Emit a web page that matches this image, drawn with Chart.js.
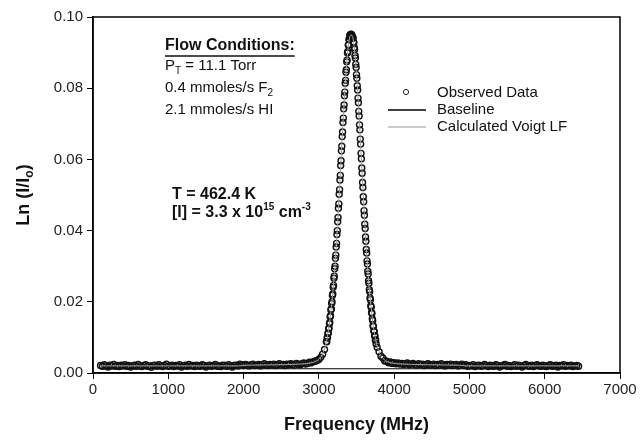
<!DOCTYPE html>
<html>
<head>
<meta charset="utf-8">
<script src="https://cdn.jsdelivr.net/npm/chart.js@4.4.0/dist/chart.umd.min.js"></script>
<style>body{margin:0;background:#fff}canvas{display:block}</style>
</head>
<body>
<canvas id="chart" width="643" height="443"></canvas>
<script>
// observed spectrum, three sampling segments (start MHz, step MHz, values)
var lowStart = 100, lowStep = 25;
var lowVals = [
  0.0021,0.0019,0.0023,0.0020,0.0017,0.0022,0.0020,0.0024,0.0019,0.0021,
  0.0018,0.0022,0.0020,0.0023,0.0019,0.0021,0.0017,0.0020,0.0022,0.0019,
  0.0024,0.0020,0.0018,0.0021,0.0023,0.0019,0.0020,0.0016,0.0021,0.0022,
  0.0019,0.0023,0.0020,0.0018,0.0021,0.0025,0.0019,0.0020,0.0022,0.0018,
  0.0021,0.0020,0.0023,0.0017,0.0020,0.0022,0.0019,0.0024,0.0020,0.0021,
  0.0018,0.0022,0.0020,0.0019,0.0023,0.0021,0.0017,0.0020,0.0022,0.0019,
  0.0021,0.0024,0.0019,0.0020,0.0018,0.0022,0.0021,0.0019,0.0023,0.0020,
  0.0017,0.0021,0.0022,0.0020,0.0025,0.0023,0.0021,0.0024,0.0022,0.0020,
  0.0023,0.0025,0.0021,0.0022,0.0024,0.0020,0.0023,0.0026,0.0022,0.0021,
  0.0024,0.0022,0.0025,0.0021,0.0023,0.0026,0.0022,0.0024,0.0021,0.0025,
  0.0023,0.0026,0.0024,0.0022,0.0027,0.0025,0.0023,0.0026,0.0028,0.0025,
  0.0027,0.0030,0.0029,0.0032,0.0033,0.0035,0.0038,0.0044,0.0053,0.0066
];

var peakStart = 3100, peakStep = 5;
var peakVals = [
  0.0088,0.0088,0.0099,0.0099,0.0111,0.0112,0.0124,0.0126,0.0138,0.0142,
  0.0158,0.0161,0.0177,0.0180,0.0195,0.0200,0.0218,0.0222,0.0241,0.0246,
  0.0266,0.0272,0.0293,0.0300,0.0322,0.0331,0.0354,0.0364,0.0389,0.0400,
  0.0425,0.0437,0.0463,0.0475,0.0502,0.0515,0.0542,0.0555,0.0583,0.0596,
  0.0624,0.0637,0.0664,0.0677,0.0704,0.0716,0.0742,0.0753,0.0779,0.0789,
  0.0814,0.0822,0.0845,0.0852,0.0874,0.0879,0.0899,0.0903,0.0921,0.0922,
  0.0937,0.0936,0.0948,0.0943,0.0951,0.0946,0.0952,
  0.0947,0.0949,0.0944,0.0942,0.0941,0.0930,0.0928,0.0914,0.0909,0.0892,
  0.0885,0.0867,0.0858,0.0838,0.0828,0.0807,0.0795,0.0772,0.0759,0.0735,
  0.0722,0.0697,0.0683,0.0657,0.0643,0.0617,0.0602,0.0576,0.0561,0.0535,
  0.0521,0.0495,0.0481,0.0456,0.0443,0.0418,0.0406,0.0382,0.0370,0.0347,
  0.0337,0.0315,0.0306,0.0286,0.0278,0.0259,0.0252,0.0234,0.0228,0.0211,
  0.0206,0.0189,0.0185,0.0170,0.0167,0.0152,0.0147,0.0132,0.0131,0.0118,
  0.0117,0.0105,0.0104,0.0093,0.0093,0.0082
];

var highStart = 3775, highStep = 25;
var highVals = [
  0.0072,0.0060,0.0047,0.0042,0.0034,0.0033,0.0029,0.0031,0.0027,0.0029,
  0.0026,0.0028,0.0025,0.0027,0.0024,0.0026,0.0028,0.0023,0.0025,0.0027,
  0.0024,0.0022,0.0026,0.0023,0.0025,0.0021,0.0024,0.0026,0.0022,0.0023,
  0.0025,0.0021,0.0024,0.0022,0.0026,0.0023,0.0020,0.0024,0.0022,0.0025,
  0.0021,0.0023,0.0024,0.0020,0.0022,0.0025,0.0021,0.0023,0.0019,0.0021,
  0.0020,0.0023,0.0018,0.0021,0.0022,0.0019,0.0020,0.0024,0.0021,0.0018,
  0.0022,0.0020,0.0019,0.0023,0.0021,0.0017,0.0020,0.0022,0.0024,0.0019,
  0.0021,0.0018,0.0020,0.0023,0.0019,0.0022,0.0020,0.0017,0.0021,0.0024,
  0.0020,0.0019,0.0022,0.0018,0.0021,0.0023,0.0020,0.0019,0.0022,0.0020,
  0.0018,0.0021,0.0023,0.0019,0.0020,0.0022,0.0017,0.0021,0.0020,0.0023,
  0.0019,0.0021,0.0020,0.0022,0.0018,0.0020,0.0021,0.0019
];

// calculated Voigt line shape
var fitFreq = [100,1000,1950,2050,2400,2630,2730,2830,2930,2980,
  3030,3050,3070,3090,3110,3130,3150,3170,3190,3210,3230,3250,3270,3290,3310,3330,3350,3370,3390,3410,
  3430,
  3450,3470,3490,3510,3530,3550,3570,3590,3610,3630,3650,3670,3690,3710,3730,3750,3770,3790,3810,3830,
  3880,3930,4030,4130,4230,4500,4850,4950,6450];
var fitVals = [0.0020,0.0020,0.0020,0.0022,0.0023,0.0024,0.0025,0.0026,0.0030,0.0035,
  0.0046,0.0054,0.0065,0.0079,0.0098,0.0122,0.0155,0.0192,0.0237,0.0289,0.0350,0.0421,0.0498,0.0579,0.0660,0.0738,0.0810,0.0870,0.0917,0.0945,
  0.0950,
  0.0945,0.0917,0.0870,0.0810,0.0738,0.0660,0.0579,0.0498,0.0421,0.0350,0.0289,0.0237,0.0192,0.0155,0.0122,0.0098,0.0079,0.0065,0.0054,0.0046,
  0.0035,0.0030,0.0026,0.0025,0.0024,0.0023,0.0022,0.0020,0.0020];

var baseFreq = [100, 6450];
var baseVals = [0.0012, 0.0012];

var xTickMax = 7000, xTickStep = 1000;
var yTickMax = 0.10, yTickStep = 0.02;

function segPoints(start, step, vals){
    return vals.map(function(v, i){ return {x: start + i * step, y: v}; });
}
function pairPoints(xs, ys){
    return xs.map(function(x, i){ return {x: x, y: ys[i]}; });
}

var observed = segPoints(lowStart, lowStep, lowVals)
    .concat(segPoints(peakStart, peakStep, peakVals))
    .concat(segPoints(highStart, highStep, highVals));

var FONT = '"Liberation Sans", Arial, sans-serif';

function richWidth(ctx, parts, size, bold){
    var w = 0;
    parts.forEach(function(p){
        var s = p[1] ? Math.round(size * 0.65) : size;
        ctx.font = (bold ? 'bold ' : '') + s + 'px ' + FONT;
        w += ctx.measureText(p[0]).width;
    });
    return w;
}

function drawRich(ctx, x, y, parts, size, bold){
    parts.forEach(function(p){
        var kind = p[1];
        var s = kind ? Math.round(size * 0.65) : size;
        var dy = kind === 'sub' ? size * 0.32 : (kind === 'sup' ? -size * 0.38 : 0);
        ctx.font = (bold ? 'bold ' : '') + s + 'px ' + FONT;
        ctx.fillText(p[0], x, y + dy);
        x += ctx.measureText(p[0]).width;
    });
    return x;
}

var decorations = {
    id: 'decorations',
    afterDraw: function(chart){
        var ctx = chart.ctx;
        var a = chart.chartArea;
        ctx.save();
        ctx.strokeStyle = '#000';
        ctx.lineWidth = 1.5;
        ctx.strokeRect(a.left, a.top, a.right - a.left, a.bottom - a.top);

        ctx.fillStyle = '#111';
        ctx.textBaseline = 'middle';
        ctx.textAlign = 'left';

        // y axis title
        var yt = [['Ln (I/I'], ['o', 'sub'], [')']];
        var yw = richWidth(ctx, yt, 18, true);
        ctx.save();
        ctx.translate(24, (a.top + a.bottom) / 2);
        ctx.rotate(-Math.PI / 2);
        drawRich(ctx, -yw / 2, 0, yt, 18, true);
        ctx.restore();

        // x axis title
        ctx.font = 'bold 18px ' + FONT;
        ctx.textAlign = 'center';
        ctx.fillText('Frequency (MHz)', (a.left + a.right) / 2, 425);
        ctx.textAlign = 'left';

        // flow conditions block
        var x0 = 165;
        var end = drawRich(ctx, x0, 46, [['Flow Conditions:']], 16, true);
        ctx.lineWidth = 1.5;
        ctx.strokeStyle = '#111';
        ctx.beginPath();
        ctx.moveTo(x0, 56); ctx.lineTo(end, 56);
        ctx.stroke();
        drawRich(ctx, x0, 66, [['P'], ['T', 'sub'], [' = 11.1 Torr']], 15, false);
        drawRich(ctx, x0, 88, [['0.4 mmoles/s F'], ['2', 'sub']], 15, false);
        drawRich(ctx, x0, 110, [['2.1 mmoles/s HI']], 15, false);

        drawRich(ctx, 172, 195, [['T = 462.4 K']], 16, true);
        drawRich(ctx, 172, 213, [['[I] = 3.3 x 10'], ['15', 'sup'], [' cm'], ['-3', 'sup']], 16, true);

        // legend
        ctx.lineWidth = 1;
        ctx.strokeStyle = '#222';
        ctx.beginPath();
        ctx.arc(406, 92, 2.6, 0, Math.PI * 2);
        ctx.stroke();
        drawRich(ctx, 437, 93, [['Observed Data']], 15, false);

        ctx.strokeStyle = '#000';
        ctx.lineWidth = 1.3;
        ctx.beginPath();
        ctx.moveTo(388, 110); ctx.lineTo(426, 110);
        ctx.stroke();
        drawRich(ctx, 437, 110, [['Baseline']], 15, false);

        ctx.strokeStyle = '#999';
        ctx.lineWidth = 1;
        ctx.beginPath();
        ctx.moveTo(388, 127); ctx.lineTo(426, 127);
        ctx.stroke();
        drawRich(ctx, 437, 127, [['Calculated Voigt LF']], 15, false);
        ctx.restore();
    }
};

var tickFont = {family: FONT, size: 15};

new Chart(document.getElementById('chart'), {
    type: 'scatter',
    data: {
        datasets: [
            {
                label: 'Calculated Voigt LF',
                data: pairPoints(fitFreq, fitVals),
                showLine: true,
                borderColor: '#a0a0a0',
                borderWidth: 1,
                pointRadius: 0,
                order: 0
            },
            {
                label: 'Observed Data',
                data: observed,
                showLine: false,
                pointStyle: 'circle',
                pointRadius: 3,
                pointBorderWidth: 1.4,
                pointBorderColor: '#111',
                pointBackgroundColor: 'rgba(255,255,255,0)',
                order: 1
            },
            {
                label: 'Baseline',
                data: pairPoints(baseFreq, baseVals),
                showLine: true,
                borderColor: '#000',
                borderWidth: 1.2,
                pointRadius: 0,
                order: 2
            }
        ]
    },
    options: {
        responsive: false,
        animation: false,
        devicePixelRatio: 1,
        layout: {padding: {left: 0, right: 23, top: 17, bottom: 0}},
        plugins: {legend: {display: false}, tooltip: {enabled: false}},
        scales: {
            x: {
                type: 'linear',
                min: 0,
                max: xTickMax,
                ticks: {stepSize: xTickStep, font: tickFont, color: '#222', padding: 2, maxRotation: 0,
                    callback: function(v){ return String(v); }},
                grid: {drawOnChartArea: false, drawTicks: true, tickLength: 6, color: '#000'},
                border: {color: '#000', width: 1.5},
                afterFit: function(s){ s.height = 70; }
            },
            y: {
                min: 0,
                max: yTickMax,
                ticks: {stepSize: yTickStep, font: tickFont, color: '#222', padding: 4,
                    callback: function(v){ return v.toFixed(2); }},
                grid: {drawOnChartArea: false, drawTicks: true, tickLength: 6, color: '#000'},
                border: {color: '#000', width: 1.5},
                afterFit: function(s){ s.width = 93; }
            }
        }
    },
    plugins: [decorations]
});
</script>
</body>
</html>
